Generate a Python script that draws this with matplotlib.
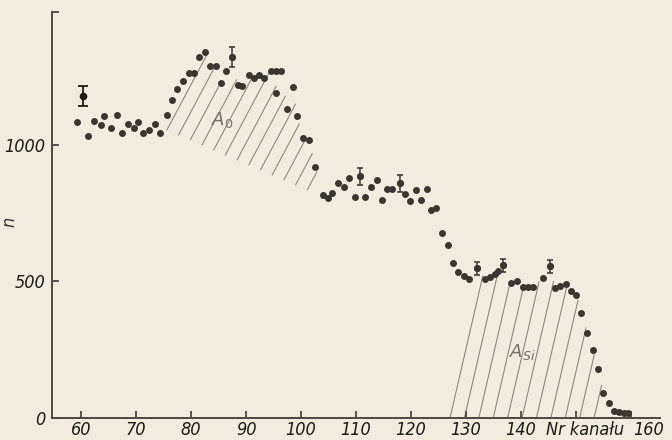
import numpy as np
import matplotlib.pyplot as plt
from matplotlib.transforms import ScaledTranslation
from matplotlib import font_manager

# channel number and counts
kanal = [59.2, 61.2, 62.4, 63.6, 64.1, 65.4, 66.5, 67.5, 68.5, 69.7,
         70.3, 71.2, 72.3, 73.5, 74.4, 75.6, 76.5, 77.5, 78.5, 79.6,
         80.5, 81.4, 82.6, 83.5, 84.6, 85.5, 86.4, 87.4, 88.5, 89.3,
         90.6, 91.4, 92.4, 93.3, 94.5, 95.4, 95.5, 96.4, 97.5, 98.5,
         99.3, 100.3, 101.5, 102.6, 104.0, 104.9, 105.6, 106.8, 107.8, 108.7,
         109.8, 110.7, 111.6, 112.7, 113.8, 114.7, 115.7, 116.6, 118.0, 118.9,
         119.8, 120.9, 121.8, 122.9, 123.6, 124.6, 125.6, 126.8, 127.6, 128.6,
         129.6, 130.5, 132.0, 133.5, 134.4, 135.2, 135.9, 136.8, 138.2, 139.2,
         140.3, 141.2, 142.2, 144.1, 145.3, 146.2, 147.2, 148.2, 149.1, 150.1,
         151.0, 152.1, 153.1, 154.1, 154.9, 156.1, 156.9, 157.8, 158.7, 159.5]
n = [1085, 1033, 1089, 1073, 1107, 1061, 1110, 1045, 1077, 1061,
     1085, 1043, 1055, 1077, 1043, 1110, 1163, 1204, 1236, 1265,
     1265, 1321, 1339, 1290, 1290, 1228, 1272, 1321, 1218, 1216,
     1258, 1247, 1256, 1244, 1272, 1272, 1190, 1272, 1133, 1211,
     1106, 1025, 1017, 919, 815, 805, 823, 861, 846, 878,
     810, 886, 810, 847, 872, 797, 840, 840, 860, 821,
     794, 835, 799, 838, 763, 770, 678, 634, 569, 536,
     519, 510, 548, 508, 518, 526, 537, 560, 496, 503,
     479, 479, 479, 512, 555, 475, 484, 492, 464, 451,
     386, 311, 248, 178, 93, 56, 25, 21, 19, 18]

# points drawn with error bars
err_kanal = [87.4, 110.7, 118.0, 132.0, 136.8, 145.3]
err_n = [1321, 886, 860, 548, 560, 555]
err_dn = [37, 31, 31, 23, 24, 24]

# lone point showing the typical error
ref_kanal = [60.3]
ref_n = [1180]
ref_dn = [37]

# linear background under the A0 peak, left edge of the A_Si area
tlo_kanal = [75.6, 102.6]
tlo_n = [1055, 824]
si_start = 127.1

W, H = 672, 440
fig = plt.figure(figsize=(W / 100, H / 100), dpi=100)
fig.patch.set_facecolor('#f1ebe0')
ax = fig.add_axes([52 / W, 22 / H, 608 / W, 406 / H])
ax.set_facecolor('#f1ebe0')
ax.set_xlim(54.7, 165.3)
ax.set_ylim(0, 1487)

ink = '#3a3531'
fp = font_manager.FontProperties(family='DejaVu Sans', style='oblique',
                                 stretch='condensed', size=13)

# hatch lines, from the base up to the measured curve
ch = np.array(kanal)
cnt = np.array(n)
o = np.argsort(ch)
cs, vs = ch[o], cnt[o]
sx = 608 / (165.3 - 54.7)
sy = 406 / 1487.0


def kreska(c0, v0, kat):
    t = np.linspace(0, 500, 5000)
    c = c0 + t * np.cos(np.radians(kat)) / sx
    v = v0 + t * np.sin(np.radians(kat)) / sy
    ok = (c <= cs.max()) & (v < np.interp(c, cs, vs))
    k = np.argmin(ok) if not ok.all() else len(t) - 1
    ax.plot(c[:k + 1], v[:k + 1], color='#8e8983', lw=0.8, zorder=1)


for c0 in np.arange(tlo_kanal[0], tlo_kanal[1], 2.13):
    kreska(c0, np.interp(c0, tlo_kanal, tlo_n), 62)

for c0 in np.arange(si_start, 155.6, 2.62):
    kreska(c0, 0, 77)

ax.plot(kanal, n, 'o', color=ink, ms=5, mec='none', zorder=3)
ax.errorbar(err_kanal, err_n, yerr=err_dn, fmt='o', color=ink, ms=5,
            mec='none', elinewidth=1.1, capsize=2.5, capthick=1.1, zorder=3)
ax.errorbar(ref_kanal, ref_n, yerr=ref_dn, fmt='o', color='#1e1a17', ms=5.5,
            mec='none', elinewidth=1.3, capsize=3.5, capthick=1.3, zorder=3)

ax.text(85.6, 1092, r'$A_0$', color='#77716b', fontsize=13,
        ha='center', va='center')
ax.text(140.2, 242, r'$A_{Si}$', color='#77716b', fontsize=13,
        ha='center', va='center')

for s in ['top', 'right']:
    ax.spines[s].set_visible(False)
for s in ['left', 'bottom']:
    ax.spines[s].set_color('#4d4743')
    ax.spines[s].set_linewidth(1.4)

ax.set_yticks([0, 500, 1000, 1487])
ax.set_yticklabels(['0', '500', '1000', ''])
ax.set_xticks(range(60, 161, 10))
ax.set_xticklabels(['60', '70', '80', '90', '100', '110', '120', '130', '140', '', '160'])
ax.tick_params(direction='in', length=5, width=1.3, color='#4d4743',
               labelcolor='#1e1a17', pad=2)
for lab in ax.get_xticklabels() + ax.get_yticklabels():
    lab.set_fontproperties(fp)
ax.tick_params(axis='y', pad=5)
lab160 = ax.get_xticklabels()[-1]
lab160.set_transform(lab160.get_transform() + ScaledTranslation(0.18, 0, fig.dpi_scale_trans))

ax.set_xlabel('Nr kanału', fontproperties=fp, color='#1e1a17')
ax.xaxis.set_label_coords(0.877, -0.008)
ax.xaxis.label.set_va('top')
ax.set_ylabel('n', fontproperties=fp, color='#3a3531')
ax.yaxis.set_label_coords(-0.056, 0.483)

fig.savefig('out.png', dpi=100, facecolor=fig.get_facecolor())
